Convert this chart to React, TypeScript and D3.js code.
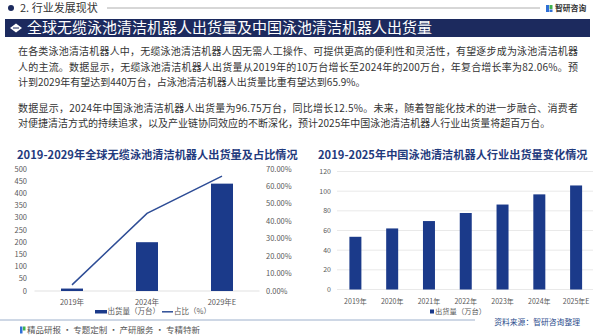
import React from 'react';
import * as d3 from 'd3';

const globalYears = ['2019年', '2024年', '2029年E'];
const globalShipments = [10, 200, 440];
const globalShare = [3.5, 44.5, 65.9];
const leftTicks = [0, 50, 100, 150, 200, 250, 300, 350, 400, 450, 500];
const rightTicks = [0, 10, 20, 30, 40, 50, 60, 70];

const chinaYears = ['2019年', '2020年', '2021年', '2022年', '2023年', '2024年', '2025年E'];
const chinaShipments = [53.6, 62.1, 69.6, 77.8, 86.4, 96.75, 105.8];
const chinaTicks = [0, 20, 40, 60, 80, 100, 120];

const para1 = [
  '在各类泳池清洁机器人中，无缆泳池清洁机器人因无需人工操作、可提供更高的便利性和灵活性，有望逐步成为泳池清洁机器',
  '人的主流。数据显示，无缆泳池清洁机器人出货量从2019年的10万台增长至2024年的200万台，年复合增长率为82.06%。预',
  '计到2029年有望达到440万台，占泳池清洁机器人出货量比重有望达到65.9%。',
];
const para2 = [
  '数据显示，2024年中国泳池清洁机器人出货量为96.75万台，同比增长12.5%。未来，随着智能化技术的进一步融合、消费者',
  '对便捷清洁方式的持续追求，以及产业链协同效应的不断深化，预计2025年中国泳池清洁机器人行业出货量将超百万台。',
];

const FONT = '"Noto Sans CJK SC", "Noto Sans", sans-serif';
const NAVY = '#1b3a8a';
const DARK = '#1c2a5e';
const TITLE = '#1f3a7d';
const GRAY = '#595959';

export default function App() {
  // left chart scales
  const xL = d3.scalePoint<string>().domain(globalYears).range([34.5, 259.5]).padding(0.5);
  const yL = d3.scaleLinear().domain([0, 500]).range([291, 169]);
  const yR = d3.scaleLinear().domain([0, 70]).range([291, 169]);
  const line = d3
    .line<number>()
    .x((_, i) => xL(globalYears[i]) as number)
    .y((d) => yR(d));
  const bwL = 22;

  // right chart scales
  const xC = d3.scalePoint<string>().domain(chinaYears).range([337, 594.5]).padding(0.5);
  const yC = d3.scaleLinear().domain([0, 120]).range([289.5, 171.5]);
  const bwC = 12;

  const textLines = (lines: string[], ys: number[], justify: boolean[]) =>
    lines.map((t, i) => (
      <text
        key={i}
        x={18}
        y={ys[i]}
        dy="0.35em"
        fontSize={10}
        fill="#333"
        {...(justify[i] ? { textLength: 560, lengthAdjust: 'spacing' } : {})}
      >
        {t}
      </text>
    ));

  return (
    <svg
      width={600}
      height={336}
      style={{ position: 'absolute', left: 0, top: 0, background: '#fff' }}
      fontFamily={FONT}
    >
      <rect x={0} y={0} width={600} height={336} fill="#fff" />
      {/* header */}
      <circle cx={11} cy={8} r={3} fill={DARK} />
      <text x={20} y={8} dy="0.35em" fontSize={11} fill="#333">
        2. 行业发展现状
      </text>
      <line x1={107} x2={540} y1={8} y2={8} stroke="#9a9a9a" strokeWidth={0.8} />
      <g>
        <rect x={546} y={5} width={3} height={7} fill="#2f6fd6" />
        <rect x={549.5} y={5} width={3} height={4} fill="#3fb34f" />
        <rect x={549.5} y={9.5} width={3} height={2.5} fill="#2f6fd6" />
        <text x={555} y={8.5} dy="0.35em" fontSize={7.8} fontWeight="bold" fill="#333">
          智研咨询
        </text>
      </g>

      {/* title bar */}
      <rect x={5} y={19} width={585} height={18} fill={DARK} />
      <g transform="translate(16,28)">
        <path d="M-6,0 L0,-4.5 L6,0 L0,4.5 Z" fill="#fff" />
        <line x1={-3} x2={3} y1={0} y2={0} stroke={DARK} strokeWidth={1} />
      </g>
      <text x={27} y={28} dy="0.36em" fontSize={15} fill="#fff">
        全球无缆泳池清洁机器人出货量及中国泳池清洁机器人出货量
      </text>

      {/* paragraphs */}
      {textLines(para1, [51, 67, 82], [true, true, false])}
      {textLines(para2, [108, 123], [true, false])}

      {/* chart titles */}
      <text x={17} y={155} dy="0.35em" fontSize={11.2} fontWeight="bold" fill={TITLE}>
        2019-2029年全球无缆泳池清洁机器人出货量及占比情况
      </text>
      <text x={318} y={155} dy="0.35em" fontSize={11.2} fontWeight="bold" fill={TITLE}>
        2019-2025年中国泳池清洁机器人行业出货量变化情况
      </text>

      {/* left chart */}
      <line x1={34.5} x2={259.5} y1={yL(0)} y2={yL(0)} stroke="#d9d9d9" strokeWidth={0.8} />
      {leftTicks.map((t) => (
        <text key={t} x={27} y={yL(t)} dy="0.35em" textAnchor="end" fontSize={7.5} fill={GRAY}>
          {t}
        </text>
      ))}
      {rightTicks.map((t) => (
        <text key={t} x={266} y={yR(t)} dy="0.35em" fontSize={7.5} fill={GRAY}>
          {t.toFixed(2)}%
        </text>
      ))}
      {globalShipments.map((v, i) => (
        <rect
          key={i}
          x={(xL(globalYears[i]) as number) - bwL / 2}
          y={yL(v)}
          width={bwL}
          height={yL(0) - yL(v)}
          fill={NAVY}
        />
      ))}
      <path d={line(globalShare) || ''} fill="none" stroke="#2e4d96" strokeWidth={1.5} />
      {globalYears.map((c) => (
        <text key={c} x={xL(c)} y={302} dy="0.35em" textAnchor="middle" fontSize={7.5} fill={GRAY}>
          {c}
        </text>
      ))}
      <rect x={95} y={310} width={12} height={3.5} fill={NAVY} />
      <text x={107.5} y={311.8} dy="0.35em" fontSize={7.5} fill={GRAY}>
        出货量（万台）
      </text>
      <line x1={162} x2={173} y1={311.8} y2={311.8} stroke="#2e4d96" strokeWidth={1.5} />
      <text x={174} y={311.8} dy="0.35em" fontSize={7.5} fill={GRAY}>
        占比（%）
      </text>

      {/* right chart */}
      {chinaTicks.map((t) => (
        <g key={t}>
          <line x1={337} x2={593} y1={yC(t)} y2={yC(t)} stroke="#e3e3e3" strokeWidth={0.8} />
          <text x={331} y={yC(t)} dy="0.35em" textAnchor="end" fontSize={7} fill={GRAY}>
            {t}
          </text>
        </g>
      ))}
      {chinaShipments.map((v, i) => (
        <rect
          key={i}
          x={(xC(chinaYears[i]) as number) - bwC / 2}
          y={yC(v)}
          width={bwC}
          height={yC(0) - yC(v)}
          fill={NAVY}
        />
      ))}
      {chinaYears.map((c) => (
        <text key={c} x={xC(c)} y={301.5} dy="0.35em" textAnchor="middle" fontSize={7} fill={GRAY}>
          {c}
        </text>
      ))}
      <rect x={430} y={309.5} width={4} height={4} fill={NAVY} />
      <text x={435} y={311.5} dy="0.35em" fontSize={7.3} fill={GRAY}>
        出货量（万台）
      </text>

      {/* footer */}
      <line x1={0} x2={475} y1={320} y2={320} stroke="#9db0cc" strokeWidth={1} />
      <text x={580} y={322} dy="0.35em" textAnchor="end" fontSize={7.8} fill="#2b4c8c">
        资料来源：智研咨询整理
      </text>
      <rect x={20} y={326.5} width={2.5} height={7} fill="#2f6fd6" />
      <rect x={23} y={326.5} width={2.5} height={4} fill="#3fb34f" />
      <text x={27} y={330} dy="0.35em" fontSize={8.5} fill="#555">
        精品研报 · 专题定制 · 产研服务 · 专精特新
      </text>
    </svg>
  );
}
